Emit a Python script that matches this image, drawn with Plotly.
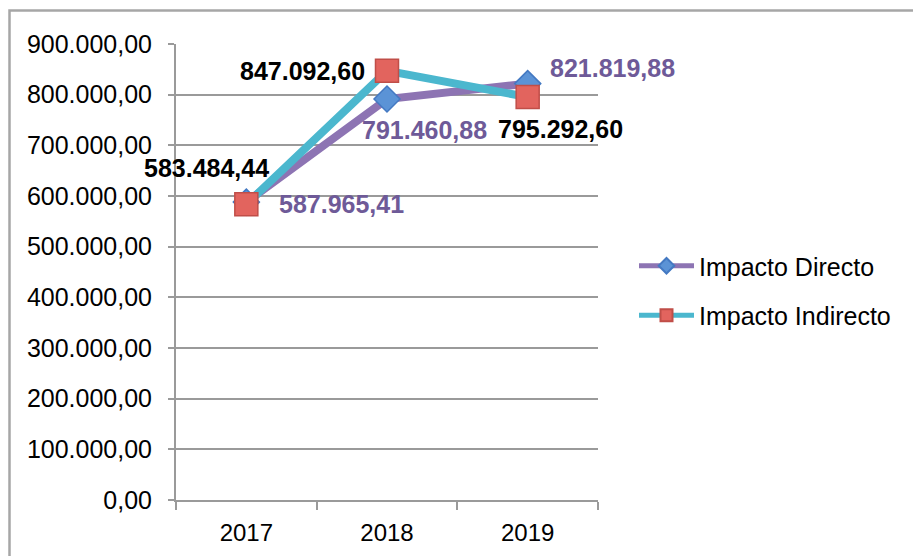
import plotly.graph_objects as go

years = ["2017", "2018", "2019"]
directo = [587965.41, 791460.88, 821819.88]
indirecto = [583484.44, 847092.60, 795292.60]
directo_labels = ["587.965,41", "791.460,88", "821.819,88"]
indirecto_labels = ["583.484,44", "847.092,60", "795.292,60"]
y_ticks = [0, 100000, 200000, 300000, 400000, 500000, 600000, 700000, 800000, 900000]

FONT = "Liberation Sans, Arial, sans-serif"
PURPLE_LINE = "#8D74B3"
CYAN_LINE = "#4BB7CE"
PURPLE_TEXT = "#6E5A98"

fig = go.Figure()
fig.add_trace(go.Scatter(
    x=years, y=directo, name="Impacto Directo", mode="lines+markers",
    legendgroup="a",
    line=dict(color=PURPLE_LINE, width=8),
    marker=dict(symbol="diamond", size=20, color="#5B93D6",
                line=dict(color="#4479C2", width=1.5)),
))
fig.add_trace(go.Scatter(
    x=years, y=indirecto, name="Impacto Indirecto", mode="lines+markers",
    legendgroup="b",
    line=dict(color=CYAN_LINE, width=8),
    marker=dict(symbol="square", size=23, color="#E2645E",
                line=dict(color="#C04E48", width=1.5)),
))

# data labels: (xanchor, xshift, yshift)
ind_pos = [("center", -40, 36), ("right", -20, 0), ("center", 33, -32)]
dir_pos = [("left", 31, -2), ("center", 37, -31), ("left", 20, 16)]
annotations = []
for i, yr in enumerate(years):
    xa, xs, ys = ind_pos[i]
    annotations.append(dict(x=i, y=indirecto[i], xref="x", yref="y",
                            text="<b>" + indirecto_labels[i] + "</b>",
                            showarrow=False, xanchor=xa, yanchor="middle", xshift=xs, yshift=ys,
                            font=dict(family=FONT, size=25, color="#000000")))
    xa, xs, ys = dir_pos[i]
    annotations.append(dict(x=i, y=directo[i], xref="x", yref="y",
                            text="<b>" + directo_labels[i] + "</b>",
                            showarrow=False, xanchor=xa, yanchor="middle", xshift=xs, yshift=ys,
                            font=dict(family=FONT, size=25, color=PURPLE_TEXT)))

# page has an 8px body margin: layout below is offset accordingly
L, R, T, B = 168, 323, 36, 56
W, H = 913, 548
pw = W - L - R
ph = H - T - B
shapes = [dict(type="rect", xref="paper", yref="paper",
               x0=(1.5 - L) / pw, x1=(W + 20 - L) / pw,
               y0=-(B + 20) / ph, y1=(ph + T - 2.5) / ph,
               line=dict(color="#A6A6A6", width=2.5), fillcolor="rgba(0,0,0,0)", layer="below")]

fig.update_layout(
    width=W, height=H,
    margin=dict(l=L, r=R, t=T, b=B, autoexpand=False),
    paper_bgcolor="white", plot_bgcolor="white",
    separators=",.",
    font=dict(family=FONT, size=24, color="#000000"),
    showlegend=True,
    annotations=annotations,
    shapes=shapes,
    legend=dict(x=(626 - L) / pw, xanchor="left", y=(492 - 282.5) / ph, yanchor="middle",
                font=dict(family=FONT, size=25, color="#000000"),
                traceorder="grouped", tracegroupgap=14, itemwidth=55,
                itemsizing="constant",
                bgcolor="rgba(0,0,0,0)"),
)
fig.update_yaxes(range=[0, 900000], tickvals=y_ticks, tickformat=",.2f",
                 showgrid=True, gridcolor="#9A9A9A", gridwidth=2,
                 showline=True, linecolor="#9A9A9A", linewidth=2,
                 ticks="outside", ticklen=6, tickcolor="#9A9A9A", tickwidth=2,
                 ticklabelstandoff=11, zeroline=False, automargin=False,
                 tickfont=dict(family=FONT, size=25, color="#000000"))
fig.update_xaxes(type="category", range=[-0.5, 2.5], tickson="boundaries",
                 showgrid=False, showline=True, linecolor="#9A9A9A", linewidth=2,
                 ticks="outside", ticklen=8, tickcolor="#9A9A9A", tickwidth=2,
                 ticklabelstandoff=10, automargin=False,
                 tickfont=dict(family=FONT, size=24, color="#000000"))

fig.write_html("out.html")
